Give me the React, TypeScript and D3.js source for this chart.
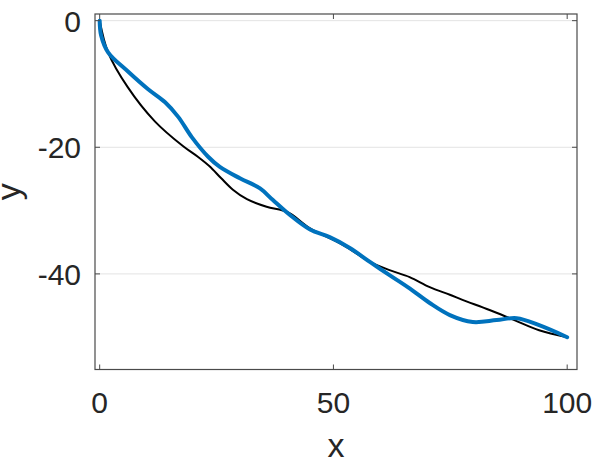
import React from "react";
import { scaleLinear, line, curveCatmullRom } from "d3";

// black reference curve
const blackX = [0, 1.8, 6, 11.8, 17.8, 21, 23.5, 26, 28.5, 31.5, 35.7, 40.3, 45, 52, 57.8, 62, 66.3, 70.6, 74.9, 77.6, 83.4, 88.7, 94, 100];
const blackY = [0, -5, -10.5, -15.9, -19.8, -21.5, -23, -24.9, -26.7, -28.2, -29.4, -30.3, -32.8, -35.4, -38.1, -39.4, -40.5, -42.1, -43.3, -44.1, -45.7, -47.3, -48.9, -50];

// blue fitted curve
const blueX = [0, 0.3, 1.8, 6, 10.3, 14, 16.8, 19.7, 23.2, 25.7, 30, 34.3, 37, 40.7, 45, 49.2, 53.5, 57.8, 62, 66.3, 70.6, 74.9, 79.8, 84.9, 89.2, 94, 100];
const blueY = [0, -2.3, -5, -8, -10.8, -12.9, -15.2, -18.4, -21.5, -23.1, -24.9, -26.5, -28.3, -30.7, -33, -34.2, -35.9, -38.1, -40.2, -42.3, -44.6, -46.5, -47.6, -47.3, -47, -48.1, -50];

const xTicks = [0, 50, 100];
const yTicks = [0, -20, -40];

const W = 598;
const H = 461;
const left = 95;
const right = 577;
const top = 14;
const bottom = 369.5;

const font = "'Liberation Sans', Arial, Helvetica, sans-serif";
const ink = "#262626";
const axisInk = "#4a4a4a";

export default function App() {
  const x = scaleLinear().domain([-1, 102.1]).range([left, right]);
  const y = scaleLinear().domain([-55.1, 1.05]).range([bottom, top]);

  const lineGen = line().curve(curveCatmullRom.alpha(0.5));
  const blackPts: [number, number][] = blackX.map((v, i) => [x(v), y(blackY[i])]);
  const bluePts: [number, number][] = blueX.map((v, i) => [x(v), y(blueY[i])]);

  const tickLen = 5;

  return (
    <svg
      width={W}
      height={H}
      style={{ position: "absolute", left: 0, top: 0, background: "#fff" }}
    >
      {/* grid */}
      {yTicks.map((t) => (
        <line key={"g" + t} x1={left} x2={right} y1={y(t)} y2={y(t)} stroke="#e3e3e3" strokeWidth={1} />
      ))}

      {/* curves */}
      <path d={lineGen(blackPts) || ""} fill="none" stroke="#000" strokeWidth={2} />
      <path d={lineGen(bluePts) || ""} fill="none" stroke="#0072BD" strokeWidth={4} strokeLinejoin="round" strokeLinecap="round" />

      {/* box */}
      <rect x={left} y={top} width={right - left} height={bottom - top} fill="none" stroke={axisInk} strokeWidth={1.2} />

      {/* ticks */}
      {xTicks.map((t) => (
        <g key={"xt" + t}>
          <line x1={x(t)} x2={x(t)} y1={bottom} y2={bottom - tickLen} stroke={axisInk} />
          <line x1={x(t)} x2={x(t)} y1={top} y2={top + tickLen} stroke={axisInk} />
          <text x={x(t)} y={413} textAnchor="middle" fontFamily={font} fontSize={30} fill={ink}>
            {t}
          </text>
        </g>
      ))}
      {yTicks.map((t) => (
        <g key={"yt" + t}>
          <line x1={left} x2={left + tickLen} y1={y(t)} y2={y(t)} stroke={axisInk} />
          <line x1={right} x2={right - tickLen} y1={y(t)} y2={y(t)} stroke={axisInk} />
          <text x={81} y={y(t) + 11} textAnchor="end" fontFamily={font} fontSize={30} fill={ink}>
            {t < 0 ? "-" + Math.abs(t) : t}
          </text>
        </g>
      ))}

      {/* axis labels */}
      <text x={(left + right) / 2} y={457} textAnchor="middle" fontFamily={font} fontSize={34} fill={ink}>
        x
      </text>
      <text
        transform={`translate(20, ${(top + bottom) / 2}) rotate(-90)`}
        textAnchor="middle"
        fontFamily={font}
        fontSize={34}
        fill={ink}
      >
        y
      </text>
    </svg>
  );
}
